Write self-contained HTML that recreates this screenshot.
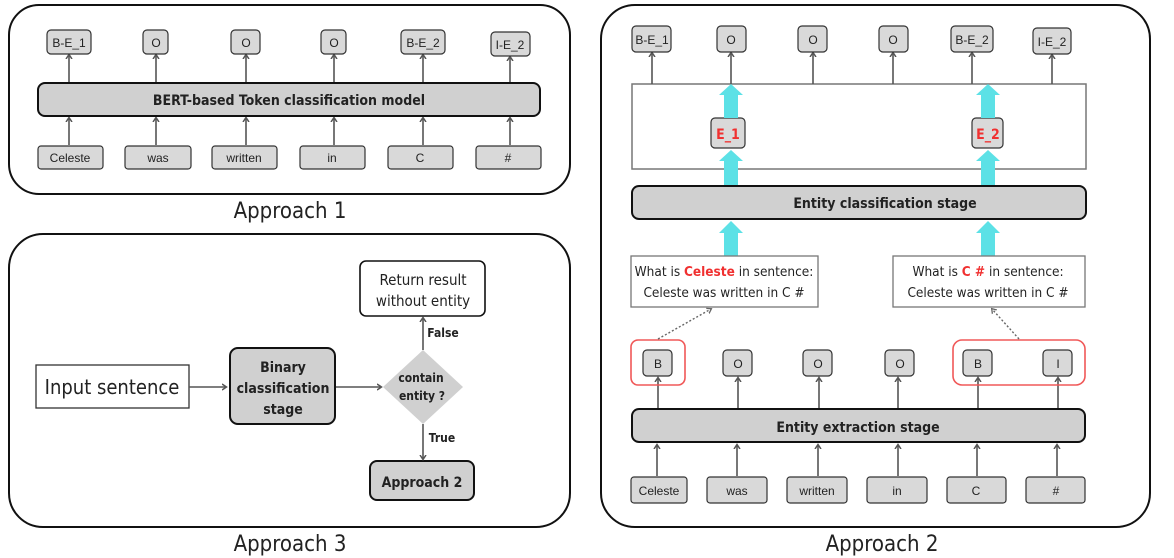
<!DOCTYPE html>
<html><head><meta charset="utf-8"><style>
html,body{margin:0;padding:0;background:#fff;}
svg{display:block;}
text{font-family:"Liberation Sans Narrow","DejaVu Sans Condensed","Liberation Sans",sans-serif;fill:#222;}
.t{font-family:"Liberation Sans",sans-serif;font-size:12px;}
.b{font-weight:bold;}
</style></head><body>
<svg width="1174" height="558" viewBox="0 0 1174 558" xmlns="http://www.w3.org/2000/svg">
<defs>
<marker id="a" markerWidth="8" markerHeight="8" refX="4" refY="4" orient="auto" markerUnits="userSpaceOnUse">
<path d="M0,1 L4.5,4 L0,7" fill="none" stroke="#555" stroke-width="1.5"/></marker>
<marker id="ad" markerWidth="8" markerHeight="8" refX="4" refY="4" orient="auto" markerUnits="userSpaceOnUse">
<path d="M0,1 L4.5,4 L0,7" fill="none" stroke="#666" stroke-width="1.3"/></marker>
</defs>
<g fill="none" stroke="#111" stroke-width="2">
<rect x="9" y="5" width="561" height="189" rx="30"/>
<rect x="9" y="234" width="561" height="293" rx="34"/>
<rect x="601" y="5" width="549" height="522" rx="34"/>
</g>
<!-- Approach 1 -->
<g stroke="#555" stroke-width="1.6" marker-end="url(#a)">
<line x1="69" y1="83" x2="69" y2="55"/><line x1="156" y1="83" x2="156" y2="55"/><line x1="246" y1="83" x2="246" y2="55"/><line x1="334" y1="83" x2="334" y2="55"/><line x1="423" y1="83" x2="423" y2="55"/><line x1="510" y1="83" x2="510" y2="57"/>
<line x1="69" y1="145" x2="69" y2="118"/><line x1="156" y1="145" x2="156" y2="118"/><line x1="246" y1="145" x2="246" y2="118"/><line x1="334" y1="145" x2="334" y2="118"/><line x1="423" y1="145" x2="423" y2="118"/><line x1="510" y1="145" x2="510" y2="118"/>
</g>
<g fill="#d9d9d9" stroke="#333" stroke-width="1.2">
<rect x="47" y="30" width="44" height="24" rx="4"/><rect x="143" y="30" width="25" height="24" rx="4"/><rect x="231" y="30" width="29" height="24" rx="4"/><rect x="321" y="30" width="25" height="24" rx="4"/><rect x="401" y="30" width="44" height="24" rx="4"/><rect x="491" y="32" width="39" height="24" rx="4"/>
<rect x="38" y="146" width="65" height="23" rx="3"/><rect x="125" y="146" width="66" height="23" rx="3"/><rect x="212" y="146" width="65" height="23" rx="3"/><rect x="300" y="146" width="65" height="23" rx="3"/><rect x="388" y="146" width="65" height="23" rx="3"/><rect x="476" y="146" width="65" height="23" rx="3"/>
</g>
<rect x="38" y="83" width="502" height="33" rx="7" fill="#d0d0d0" stroke="#111" stroke-width="2"/>
<g class="t" text-anchor="middle">
<text x="69" y="47" class="t">B-E_1</text><text x="156" y="47" class="t">O</text><text x="246" y="47" class="t">O</text><text x="334" y="47" class="t">O</text><text x="423" y="47" class="t">B-E_2</text><text x="510" y="49" class="t">I-E_2</text>
<text x="70" y="162" class="t">Celeste</text><text x="158" y="162" class="t">was</text><text x="244" y="162" class="t">written</text><text x="332" y="162" class="t">in</text><text x="420" y="162" class="t">C</text><text x="508" y="162" class="t">#</text>
</g>
<text x="289" y="105" text-anchor="middle" font-size="14" class="b">BERT-based Token classification model</text>
<text x="290" y="218" text-anchor="middle" font-size="22">Approach 1</text>
<!-- Approach 3 -->
<rect x="36" y="365" width="153" height="43" fill="#fff" stroke="#333" stroke-width="1.3"/>
<text x="112" y="394" text-anchor="middle" font-size="20">Input sentence</text>
<rect x="230" y="348" width="105" height="76" rx="8" fill="#d0d0d0" stroke="#111" stroke-width="2"/>
<text x="283" y="372" text-anchor="middle" font-size="14" class="b">Binary</text>
<text x="283" y="393" text-anchor="middle" font-size="14" class="b">classification</text>
<text x="283" y="414" text-anchor="middle" font-size="14" class="b">stage</text>
<polygon points="423,350 463,387 423,424 383,387" fill="#d0d0d0"/>
<text x="421" y="382" text-anchor="middle" font-size="12" class="b">contain</text>
<text x="422" y="400" text-anchor="middle" font-size="12" class="b">entity ?</text>
<rect x="360" y="261" width="125" height="55" rx="6" fill="#fff" stroke="#111" stroke-width="1.6"/>
<text x="423" y="285" text-anchor="middle" font-size="15">Return result</text>
<text x="423" y="306" text-anchor="middle" font-size="15">without entity</text>
<rect x="370" y="461" width="104" height="39" rx="7" fill="#d0d0d0" stroke="#111" stroke-width="2"/>
<text x="422" y="487" text-anchor="middle" font-size="14" class="b">Approach 2</text>
<g stroke="#555" stroke-width="1.6" marker-end="url(#a)">
<line x1="189" y1="387" x2="226" y2="387"/><line x1="336" y1="387" x2="381" y2="387"/>
<line x1="423" y1="350" x2="423" y2="318"/><line x1="423" y1="424" x2="423" y2="459"/>
</g>
<text x="443" y="337" text-anchor="middle" font-size="12" class="b">False</text>
<text x="442" y="442" text-anchor="middle" font-size="12" class="b">True</text>
<text x="290" y="551" text-anchor="middle" font-size="22">Approach 3</text>
<!-- Approach 2 -->
<rect x="632" y="84" width="454" height="85" fill="none" stroke="#777" stroke-width="1.5"/>
<g stroke="#555" stroke-width="1.6" marker-end="url(#a)">
<line x1="652" y1="84" x2="652" y2="53"/><line x1="731" y1="84" x2="731" y2="53"/><line x1="813" y1="84" x2="813" y2="53"/><line x1="893" y1="84" x2="893" y2="53"/><line x1="972" y1="84" x2="972" y2="53"/><line x1="1052" y1="84" x2="1052" y2="55"/>
<line x1="658" y1="409" x2="658" y2="378"/><line x1="738" y1="409" x2="738" y2="378"/><line x1="819" y1="409" x2="819" y2="378"/><line x1="898" y1="409" x2="898" y2="378"/><line x1="978" y1="409" x2="978" y2="378"/><line x1="1058" y1="409" x2="1058" y2="378"/>
<line x1="657" y1="476" x2="657" y2="445"/><line x1="737" y1="476" x2="737" y2="445"/><line x1="818" y1="476" x2="818" y2="445"/><line x1="898" y1="476" x2="898" y2="445"/><line x1="977" y1="476" x2="977" y2="445"/><line x1="1057" y1="476" x2="1057" y2="445"/>
</g>
<g fill="#d9d9d9" stroke="#333" stroke-width="1.2">
<rect x="632" y="26" width="39" height="26" rx="4"/><rect x="717" y="26" width="29" height="26" rx="4"/><rect x="798" y="26" width="29" height="26" rx="4"/><rect x="879" y="26" width="29" height="26" rx="4"/><rect x="951" y="26" width="42" height="26" rx="4"/><rect x="1033" y="28" width="38" height="26" rx="4"/>
<rect x="643" y="350" width="29" height="26" rx="4"/><rect x="723" y="350" width="29" height="26" rx="4"/><rect x="803" y="350" width="29" height="26" rx="4"/><rect x="885" y="350" width="29" height="26" rx="4"/><rect x="963" y="350" width="29" height="26" rx="4"/><rect x="1043" y="350" width="29" height="26" rx="4"/>
<rect x="631" y="477" width="56" height="26" rx="3"/><rect x="707" y="477" width="60" height="26" rx="3"/><rect x="787" y="477" width="60" height="26" rx="3"/><rect x="867" y="477" width="60" height="26" rx="3"/><rect x="947" y="477" width="59" height="26" rx="3"/><rect x="1026" y="477" width="59" height="26" rx="3"/>
<rect x="711" y="118" width="34" height="30" rx="4"/><rect x="972" y="118" width="31" height="30" rx="4"/>
</g>
<g text-anchor="middle">
<text x="652" y="44" class="t">B-E_1</text><text x="731" y="44" class="t">O</text><text x="813" y="44" class="t">O</text><text x="893" y="44" class="t">O</text><text x="972" y="44" class="t">B-E_2</text><text x="1052" y="46" class="t">I-E_2</text>
<text x="658" y="368" class="t">B</text><text x="738" y="368" class="t">O</text><text x="818" y="368" class="t">O</text><text x="900" y="368" class="t">O</text><text x="978" y="368" class="t">B</text><text x="1058" y="368" class="t">I</text>
<text x="659" y="495" class="t">Celeste</text><text x="737" y="495" class="t">was</text><text x="817" y="495" class="t">written</text><text x="897" y="495" class="t">in</text><text x="976" y="495" class="t">C</text><text x="1056" y="495" class="t">#</text>
</g>
<text x="728" y="139" text-anchor="middle" font-size="14" class="b" style="fill:#f03030">E_1</text>
<text x="988" y="139" text-anchor="middle" font-size="14" class="b" style="fill:#f03030">E_2</text>
<!-- cyan arrows -->
<g fill="#5ce1e6">
<path d="M724,186 V161 H719 L731,150 L743,161 H738 V186 Z"/>
<path d="M724,118 V95 H719 L731,84 L743,95 H738 V118 Z"/>
<path d="M724,258 V233 H719 L731,221 L743,233 H738 V258 Z"/>
<path d="M981,186 V161 H976 L988,150 L1000,161 H995 V186 Z"/>
<path d="M981,118 V95 H976 L988,84 L1000,95 H995 V118 Z"/>
<path d="M981,258 V233 H976 L988,221 L1000,233 H995 V258 Z"/>
</g>
<rect x="632" y="186" width="454" height="33" rx="7" fill="#d0d0d0" stroke="#111" stroke-width="2"/>
<text x="885" y="208" text-anchor="middle" font-size="14" class="b">Entity classification stage</text>
<rect x="632" y="409" width="453" height="33" rx="7" fill="#d0d0d0" stroke="#111" stroke-width="2"/>
<text x="858" y="432" text-anchor="middle" font-size="14" class="b">Entity extraction stage</text>
<rect x="631" y="256" width="187" height="51" fill="#fff" stroke="#777" stroke-width="1.3"/>
<rect x="893" y="256" width="192" height="51" fill="#fff" stroke="#777" stroke-width="1.3"/>
<text x="724" y="276" text-anchor="middle" font-size="13.5">What is <tspan class="b" style="fill:#f03030">Celeste</tspan> in sentence:</text>
<text x="724" y="297" text-anchor="middle" font-size="13.5">Celeste was written in C #</text>
<text x="988" y="276" text-anchor="middle" font-size="13.5">What is <tspan class="b" style="fill:#f03030">C #</tspan> in sentence:</text>
<text x="988" y="297" text-anchor="middle" font-size="13.5">Celeste was written in C #</text>
<rect x="631" y="340" width="54" height="45" rx="7" fill="none" stroke="#f05858" stroke-width="1.6"/>
<rect x="953" y="340" width="132" height="45" rx="9" fill="none" stroke="#f05858" stroke-width="1.6"/>
<g stroke="#666" stroke-width="1.4" stroke-dasharray="2,2" marker-end="url(#ad)">
<line x1="658" y1="339" x2="711" y2="309"/><line x1="1019" y1="339" x2="992" y2="309"/>
</g>
<text x="882" y="551" text-anchor="middle" font-size="22">Approach 2</text>
</svg>
</body></html>
